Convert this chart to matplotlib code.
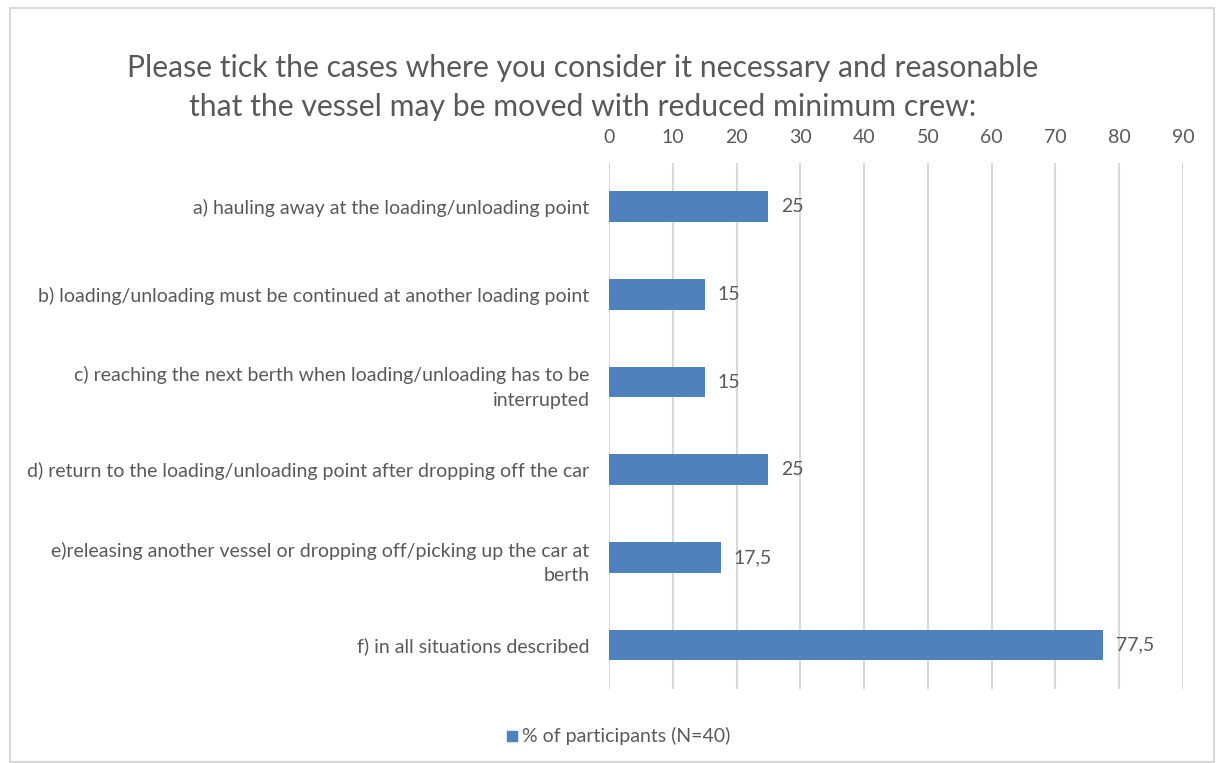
import matplotlib.pyplot as plt
from matplotlib.patches import Rectangle

categories = [
    'a) hauling away at the loading/unloading point',
    'b) loading/unloading must be continued at another loading point',
    'c) reaching the next berth when loading/unloading has to be\ninterrupted',
    'd) return to the loading/unloading point after dropping off the car',
    'e)releasing another vessel or dropping off/picking up the car at\nberth',
    'f) in all situations described',
]
values = [25, 15, 15, 25, 17.5, 77.5]
value_labels = ['25', '15', '15', '25', '17,5', '77,5']
ticks = [0, 10, 20, 30, 40, 50, 60, 70, 80, 90]
series_name = '% of participants (N=40)'
title = ('Please tick the cases where you consider it necessary and reasonable\n'
         'that the vessel may be moved with reduced minimum crew:')

text_color = '#595959'
bar_color = '#4f81bd'
grid_color = '#d9d9d9'

plt.rcParams['font.family'] = ['Lato', 'DejaVu Sans']

fig = plt.figure(figsize=(12.16, 7.63), dpi=100)
ax = fig.add_axes([0.5008, 0.0970, 0.4721, 0.6894])

y = list(range(len(categories)))
ax.barh(y, values, height=0.35, color=bar_color, zorder=3)
for yi, v, lab in zip(y, values, value_labels):
    ax.annotate(lab, (v, yi), xytext=(9, 0), textcoords='offset points',
                va='center', ha='left', fontsize=14, color=text_color)

ax.set_xlim(0, 90)
ax.set_ylim(5.5, -0.5)
ax.set_xticks(ticks)
ax.set_yticks(y)
ax.set_yticklabels(categories, fontsize=14, color=text_color)
ax.xaxis.tick_top()
ax.tick_params(axis='x', length=0, pad=12, labelsize=14, labelcolor=text_color)
ax.tick_params(axis='y', length=0, pad=14)
for lab in ax.get_yticklabels():
    lab.set_horizontalalignment('right')
    lab.set_multialignment('right')
    lab.set_linespacing(1.55)
ax.grid(axis='x', color=grid_color, linewidth=1.5, zorder=0)
for s in ax.spines.values():
    s.set_visible(False)

fig.text(0.479, 0.885, title, ha='center', va='center', fontsize=21.7,
         color=text_color, linespacing=1.5)

# legend entry below the plot
fig.patches.append(Rectangle((507 / 1216, 1 - 741 / 763), 10 / 1216, 10 / 763,
                             transform=fig.transFigure, color=bar_color))
fig.text(522 / 1216, 1 - 736 / 763, series_name, ha='left', va='center',
         fontsize=14, color=text_color)

# chart area border
fig.patches.append(Rectangle((10 / 1216, 0.001), 1204 / 1216, 1 - 8 / 763 - 0.001,
                             transform=fig.transFigure, fill=False,
                             edgecolor=grid_color, linewidth=1.5))

fig.savefig('out.png', dpi=100)
